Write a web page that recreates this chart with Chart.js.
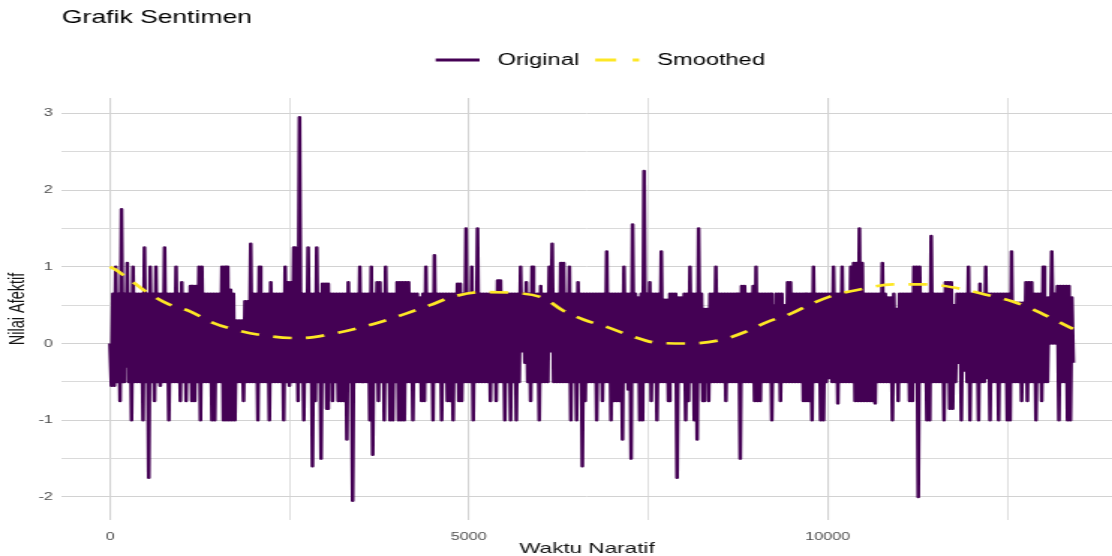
<!DOCTYPE html>
<html>
<head>
<meta charset="utf-8">
<script src="https://cdn.jsdelivr.net/npm/chart.js@4.4.1/dist/chart.umd.min.js"></script>
<style>
html,body{margin:0;padding:0;background:#fff;overflow:hidden;width:1112px;height:556px;}
#wrap{position:absolute;left:0;top:0;width:742px;height:556px;transform:scaleX(1.4987);transform-origin:0 0;}
canvas{display:block;}
</style>
</head>
<body>
<div id="wrap"><canvas id="c" width="742" height="556"></canvas></div>
<script>
// ---- data ----
const chartTitle = 'Grafik Sentimen';
const seriesNames = ['Original', 'Smoothed'];
const xTitle = 'Waktu Naratif';
const yTitle = 'Nilai Afektif';
const columnWidth = 40; // narrative-time width of one read column
// upper envelope (peaks) of the Original series, one per column
const originalPeaks = [
  0, 0.65, 1, 0.65, 1.75, 0.65, 1.05, 0.65, 1, 0.65, 0.65, 0.65, 1.25, 0.65, 1, 0.65, 1, 0.65, 0.65, 1.25, 0.65, 0.65, 0.65, 1, 0.65, 0.8, 0.65, 0.65,
  0.75, 0.75, 0.75, 1, 1, 0.65, 0.65, 0.65, 0.65, 0.65, 0.65, 1, 1, 1, 0.7, 0.65, 0.3, 0.3, 0.3, 0.55, 0.55, 1.3, 0.65, 0.65, 1, 0.65, 0.65, 0.65, 0.8, 0.65, 0.65, 0.65,
  0.65, 1, 0.8, 0.8, 1.25, 0.65, 2.95, 0.65, 0.65, 1.25, 0.65, 0.65, 1.25, 0.65, 0.78, 0.78, 0.78, 0.65, 0.65, 0.65, 0.65, 0.65, 0.65, 0.8, 0.65, 0.65, 0.65, 1, 0.65, 0.65, 0.65,
  1, 0.65, 0.8, 0.8, 0.65, 1, 0.65, 0.65, 0.65, 0.8, 0.8, 0.8, 0.8, 0.8, 0.65, 0.65, 0.65, 0.6, 0.65, 1, 0.65, 0.65, 1.15, 0.65, 0.65, 0.65, 0.65, 0.65, 0.65, 0.65, 0.78,
  0.78, 0.65, 1.5, 0.65, 1, 0.65, 1.5, 0.65, 0.65, 0.65, 0.65, 0.65, 0.65, 0.82, 0.82, 0.65, 0.65, 0.65, 0.65, 0.65, 0.65, 1, 0.65, 0.8, 0.65, 1, 0.65, 0.65, 0.75, 0.65, 0.65, 1,
  1.3, 0.65, 0.65, 1.05, 1.05, 0.65, 1, 0.65, 0.65, 0.8, 0.65, 0.65, 0.65, 0.65, 0.65, 0.65, 0.65, 0.65, 0.65, 1.2, 0.65, 0.65, 0.65, 0.65, 0.65, 1, 0.65, 0.65, 1.55, 0.65, 0.6,
  0.65, 2.25, 0.65, 0.8, 0.65, 0.65, 0.65, 1.2, 0.57, 0.57, 0.65, 0.65, 0.65, 0.6, 0.6, 0.65, 0.65, 1, 0.65, 0.65, 1.5, 0.65, 0.45, 0.45, 0.65, 0.65, 1, 0.65, 0.65, 0.65, 0.65,
  0.65, 0.65, 0.65, 0.65, 0.75, 0.75, 0.65, 0.65, 0.75, 1, 0.65, 0.65, 0.65, 0.65, 0.65, 0.5, 0.65, 0.65, 0.65, 0.5, 0.8, 0.8, 0.65, 0.65, 0.65, 0.65, 0.65, 0.65, 0.65, 1, 0.65, 0.65,
  0.65, 0.65, 0.65, 0.65, 1, 0.65, 0.65, 1, 0.65, 0.65, 1, 1.05, 1.05, 1.5, 1.05, 0.65, 0.65, 0.65, 0.65, 0.65, 0.65, 1.05, 0.65, 0.6, 0.6, 0.65, 0.45, 0.65, 0.65, 0.65, 0.65,
  0.65, 1, 1, 1, 0.65, 0.65, 0.65, 1.4, 0.65, 0.65, 0.65, 0.65, 0.8, 0.8, 0.8, 0.5, 0.65, 0.65, 0.65, 0.65, 1, 0.65, 0.65, 0.65, 0.78, 0.65, 1, 0.65, 0.65, 0.65, 0.65,
  0.65, 0.65, 0.65, 0.65, 1.2, 0.53, 0.53, 0.53, 0.53, 0.8, 0.8, 0.8, 0.65, 0.65, 0.65, 1, 0.6, 0.6, 1.2, 0.65, 0.75, 0.75, 0.75, 0.75, 0.75, 0.6
];
// lower envelope (troughs) of the Original series, one per column
const originalTroughs = [
  -0.55, -0.55, -0.5, -0.75, -0.5, -0.3, -0.5, -1, -0.5, -0.5, -0.5, -1, -0.5, -1.75, -0.5, -0.75, -0.5, -0.55, -0.5, -0.5, -1, -0.5, -0.5, -0.5, -0.75, -0.5, -0.75, -0.5,
  -0.75, -0.75, -0.5, -1, -0.5, -0.5, -0.5, -1, -1, -0.5, -0.5, -1, -1, -1, -1, -1, -0.5, -0.5, -0.75, -0.5, -0.5, -0.5, -0.5, -1, -0.5, -0.5, -0.5, -1, -0.5, -0.5, -0.5, -0.5,
  -1, -0.5, -0.55, -0.5, -0.5, -0.75, -0.5, -1, -0.5, -0.5, -1.6, -0.75, -0.5, -1.5, -0.5, -0.85, -0.5, -0.75, -0.5, -0.75, -0.75, -0.75, -1.25, -0.5, -2.05, -0.5, -0.5, -0.5, -0.5, -0.5, -1,
  -1.45, -0.5, -0.75, -0.5, -1, -0.5, -1, -1, -0.5, -1, -1, -1, -0.5, -0.5, -1, -0.5, -0.5, -0.75, -0.75, -0.5, -0.5, -1, -0.5, -0.5, -1, -0.5, -0.75, -0.75, -1, -0.5, -0.75,
  -0.75, -0.5, -0.5, -0.5, -1, -0.5, -0.5, -0.5, -0.5, -0.5, -0.75, -0.5, -0.75, -0.5, -0.5, -1, -0.5, -1, -0.5, -1, -0.5, -0.1, -0.25, -0.5, -0.75, -0.5, -0.5, -1, -0.5, -0.5, -0.5, -0.1,
  -0.5, -0.5, -0.5, -0.5, -0.5, -0.5, -1, -0.5, -1, -0.5, -1.6, -0.75, -0.5, -0.5, -0.5, -1, -0.5, -0.75, -0.5, -0.5, -1, -0.75, -0.75, -0.75, -1.25, -0.5, -0.6, -1.5, -0.5, -0.5, -1,
  -1, -0.5, -0.5, -0.75, -0.5, -1, -0.5, -0.5, -0.5, -0.75, -0.5, -0.5, -1.75, -0.5, -0.5, -1, -0.75, -0.5, -1, -1.25, -0.5, -0.75, -0.5, -0.75, -0.5, -0.5, -0.5, -0.5, -0.5, -0.75, -0.5,
  -0.5, -0.5, -0.5, -1.5, -0.5, -0.5, -0.5, -0.5, -0.75, -0.75, -0.75, -0.5, -0.5, -0.5, -1, -0.5, -0.5, -0.75, -0.5, -0.5, -0.5, -0.5, -0.5, -0.5, -0.5, -0.75, -0.75, -0.75, -1, -0.5, -0.5, -1,
  -1, -0.5, -0.45, -0.5, -0.5, -0.78, -0.5, -0.5, -0.5, -0.5, -0.5, -0.75, -0.75, -0.75, -0.75, -0.75, -0.75, -0.75, -0.78, -0.5, -0.5, -0.5, -0.5, -0.5, -1, -0.5, -0.75, -0.5, -0.5, -0.5, -0.75,
  -0.75, -0.5, -2, -0.5, -0.5, -1, -1, -0.5, -0.5, -0.5, -0.5, -1, -0.5, -0.85, -0.85, -0.5, -0.25, -1, -0.35, -0.5, -1, -0.5, -0.5, -1, -0.5, -0.5, -0.45, -1, -0.5, -0.5, -1,
  -0.5, -0.5, -1, -1, -0.5, -0.5, -0.5, -0.75, -0.5, -0.75, -0.5, -0.5, -1, -0.5, -0.75, -0.5, -0.5, 0, 0, 0, -1, -0.5, -0.5, -1, -1, -0.25
];
const smoothX = [0, 63, 306, 529, 822, 1114, 1435, 1783, 2187, 2647, 3065, 3455, 3803, 4123, 4458, 4778, 5182, 5642, 6046, 6310, 6603, 6937, 7258, 7620, 8079, 8525, 8846, 9152, 9486, 9779, 10085, 10475, 10907, 11381, 11813, 12189, 12565, 12871, 13178, 13415];
const smoothY = [1.0, 0.97, 0.81, 0.66, 0.51, 0.42, 0.27, 0.17, 0.10, 0.07, 0.12, 0.20, 0.29, 0.39, 0.50, 0.61, 0.67, 0.66, 0.59, 0.43, 0.31, 0.21, 0.10, 0.01, 0.00, 0.05, 0.15, 0.28, 0.39, 0.52, 0.63, 0.71, 0.77, 0.77, 0.72, 0.64, 0.55, 0.44, 0.30, 0.19];
const xMajorTicks = [0, 5000, 10000];
const xMinorTicks = [2500, 7500, 12500];
const yMajorTicks = [-2, -1, 0, 1, 2, 3];
const yMinorTicks = [-1.5, -0.5, 0.5, 1.5, 2.5];

// ---- styling ----
const FONT = "'Liberation Sans', Arial, Helvetica, sans-serif";
const colorOriginal = '#440154';
const colorSmoothed = '#FDE725';
const gridMajor = '#d2d2d2';
const gridMinor = '#dadada';
Chart.defaults.font.family = FONT;

// Original series: each column contributes its peak then its trough
const originalData = [];
const nCols = Math.min(originalPeaks.length, originalTroughs.length);
for (let i = 0; i < nCols; i++) {
  originalData.push({x: i * columnWidth, y: originalPeaks[i]});
  originalData.push({x: i * columnWidth + columnWidth / 2, y: originalTroughs[i]});
}
const smoothData = smoothX.map((x, i) => ({x: x, y: smoothY[i]}));

const allX = xMajorTicks.concat(xMinorTicks).sort((a, b) => a - b);
const allY = yMajorTicks.concat(yMinorTicks).sort((a, b) => a - b);

const headerPlugin = {
  id: 'header',
  afterDraw(chart) {
    const ctx = chart.ctx;
    ctx.save();
    ctx.fillStyle = '#000';
    ctx.textAlign = 'left';
    ctx.textBaseline = 'alphabetic';
    ctx.font = '17.7px ' + FONT;
    ctx.fillText(chartTitle, 41.3, 23);
    // legend
    const ly = 60;
    const keyW = 29.3, keyGap = 12, itemGap = 10.7;
    const styles = [
      {color: colorOriginal, dash: [], width: 3},
      {color: colorSmoothed, dash: [14, 11], width: 3}
    ];
    ctx.font = '15.8px ' + FONT;
    ctx.textBaseline = 'middle';
    let x = 290.7;
    seriesNames.forEach((name, i) => {
      ctx.strokeStyle = styles[i].color;
      ctx.lineWidth = styles[i].width;
      ctx.setLineDash(styles[i].dash);
      ctx.beginPath();
      ctx.moveTo(x, ly);
      ctx.lineTo(x + keyW, ly);
      ctx.stroke();
      x += keyW + keyGap;
      ctx.fillStyle = '#000';
      ctx.fillText(name, x, ly + 0.5);
      x += ctx.measureText(name).width + itemGap;
    });
    ctx.restore();
  }
};

new Chart(document.getElementById('c'), {
  type: 'line',
  data: {
    datasets: [
      {
        label: seriesNames[0],
        data: originalData,
        borderColor: colorOriginal,
        borderWidth: 2.5,
        pointRadius: 0,
        tension: 0,
        borderJoinStyle: 'round',
        fill: false,
        order: 2
      },
      {
        label: seriesNames[1],
        data: smoothData,
        borderColor: colorSmoothed,
        borderWidth: 2.7,
        borderDash: [12.5, 9.5],
        pointRadius: 0,
        tension: 0.4,
        cubicInterpolationMode: 'monotone',
        fill: false,
        order: 1
      }
    ]
  },
  options: {
    responsive: false,
    animation: false,
    devicePixelRatio: 1,
    layout: {padding: {top: 98, right: 0, bottom: 0, left: 0}},
    plugins: {legend: {display: false}, title: {display: false}, tooltip: {enabled: false}},
    scales: {
      x: {
        type: 'linear',
        min: -670,
        max: 13960,
        afterBuildTicks: s => { s.ticks = allX.map(v => ({value: v})); },
        afterFit: s => { s.height = 36; },
        ticks: {
          autoSkip: false,
          maxRotation: 0,
          padding: 11,
          color: '#4d4d4d',
          font: {size: 10.8},
          callback: v => xMajorTicks.includes(v) ? String(v) : ''
        },
        grid: {
          drawTicks: false,
          color: c => xMajorTicks.includes(c.tick && c.tick.value) ? gridMajor : gridMinor,
          lineWidth: c => xMajorTicks.includes(c.tick && c.tick.value) ? 1.1 : 0.9
        },
        border: {display: false},
        title: {display: true, text: xTitle, color: '#111', font: {size: 15, lineHeight: 1}, padding: {top: 0, bottom: 0}}
      },
      y: {
        type: 'linear',
        min: -2.3,
        max: 3.2,
        afterBuildTicks: s => { s.ticks = allY.map(v => ({value: v})); },
        afterFit: s => { s.width = 41.3; },
        ticks: {
          autoSkip: false,
          padding: 6,
          color: '#4d4d4d',
          font: {size: 10.8},
          callback: v => yMajorTicks.includes(v) ? String(v) : ''
        },
        grid: {
          drawTicks: false,
          color: c => yMajorTicks.includes(c.tick && c.tick.value) ? gridMajor : gridMinor,
          lineWidth: 1
        },
        border: {display: false},
        title: {display: true, text: yTitle, color: '#111', font: {size: 14.5}, padding: {top: 3, bottom: 0}}
      }
    }
  },
  plugins: [headerPlugin]
});
</script>
</body>
</html>
